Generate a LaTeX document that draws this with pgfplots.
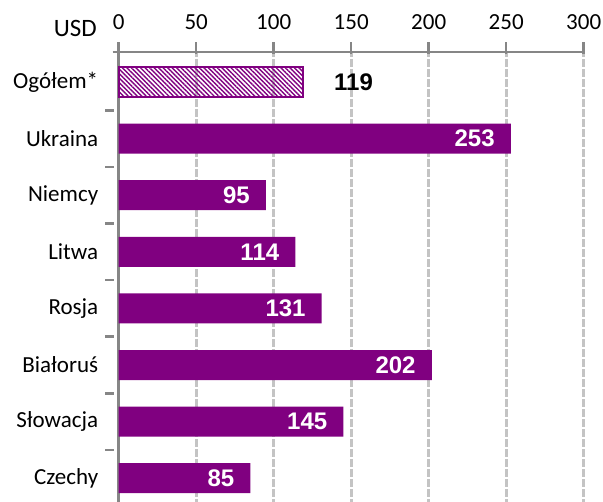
\documentclass[border=0pt]{standalone}
\usepackage{pgfplots}
\pgfplotsset{compat=1.18}
\usepackage{fontspec}
\setmainfont{Carlito}
\newfontfamily\arialfont{Liberation Sans}
\usetikzlibrary{patterns.meta}
\definecolor{barpurple}{RGB}{128,0,128}
\definecolor{axgray}{RGB}{134,134,134}
\definecolor{gridgray}{RGB}{196,196,196}
\begin{document}
\begin{tikzpicture}
\begin{axis}[
  at={(118.7pt,-52pt)}, anchor=north west,
  scale only axis, width=465pt, height=454.5pt,
  xmin=0, xmax=300, ymin=-0.5, ymax=7.53,
  axis x line=top, axis y line=left,
  axis line style={-, axgray, line width=2.5pt},
  x axis line style={shorten <=-6pt},
  xtick={0,50,...,300},
  ytick={0,...,7},
  yticklabels={Czechy,Słowacja,Białoruś,Rosja,Litwa,Niemcy,Ukraina,Ogółem*},
  minor ytick={0.5,1.5,...,6.5},
  tick align=center,
  major tick length=12pt,
  minor tick length=9pt,
  major y tick style={draw=none},
  major x tick style={axgray, line width=2.5pt, yshift=3.5pt},
  minor y tick style={axgray, line width=2.5pt, xshift=-4.5pt},
  tick label style={font=\fontsize{23}{27}\selectfont},
  yticklabel style={xshift=-5pt},
  xticklabel style={yshift=13pt},
  /pgf/number format/assume math mode=true,
  xmajorgrids,
  major x grid style={gridgray, line width=3pt, dash pattern=on 8pt off 2pt},
  xbar, bar width=30pt, bar shift=0pt,
  clip=false,
]
\addplot[draw=barpurple, line width=2pt,
  pattern={Lines[angle=-45,distance=3.2pt,line width=1.4pt]}, pattern color=barpurple,
  nodes near coords,
  every node near coord/.append style={anchor=west, inner sep=0pt, xshift=30pt,
     font=\arialfont\bfseries\fontsize{24}{28}\selectfont, text=black}]
  coordinates {(119,7)};
\addplot[draw=none, fill=barpurple,
  nodes near coords,
  every node near coord/.append style={anchor=east, inner sep=0pt, xshift=-16pt,
     font=\arialfont\bfseries\fontsize{24}{28}\selectfont, text=white}]
  coordinates {(85,0) (145,1) (202,2) (131,3) (114,4) (95,5) (253,6)};
\end{axis}
\node[anchor=base east, font=\fontsize{25}{29}\selectfont, inner sep=0pt] at (97pt,-36.5pt) {USD};
\pgfresetboundingbox
\useasboundingbox (0,0) rectangle (603pt,-502pt);
\end{tikzpicture}
\end{document}
